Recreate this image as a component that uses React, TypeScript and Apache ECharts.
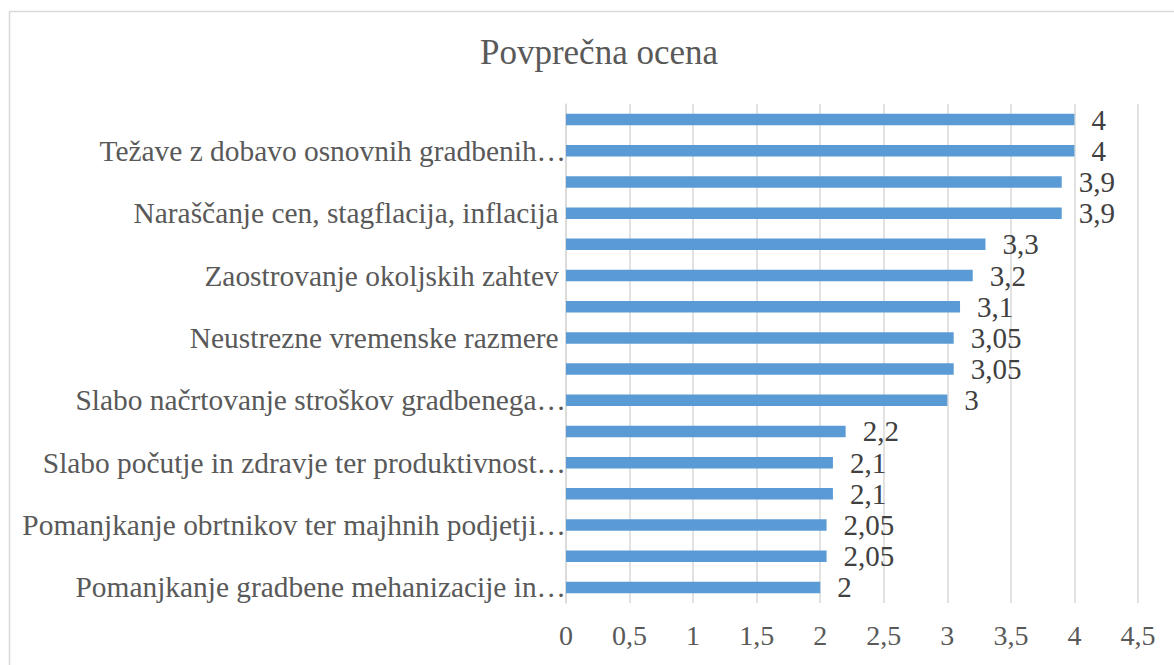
import React, { useEffect, useRef } from "react";
import * as echarts from "echarts";

const TITLE = "Povprečna ocena";

// bottom-to-top order (ECharts category y axis starts at the bottom)
const categories: string[] = [
  "Pomanjkanje gradbene mehanizacije in…",
  "",
  "Pomanjkanje obrtnikov ter majhnih podjetji…",
  "",
  "Slabo počutje in zdravje ter produktivnost…",
  "",
  "Slabo načrtovanje stroškov gradbenega…",
  "",
  "Neustrezne vremenske razmere ",
  "",
  "Zaostrovanje okoljskih zahtev ",
  "",
  "Naraščanje cen, stagflacija, inflacija ",
  "",
  "Težave z dobavo osnovnih gradbenih…",
  "",
];

const values: number[] = [
  2, 2.05, 2.05, 2.1, 2.1, 2.2, 3, 3.05, 3.05, 3.1, 3.2, 3.3, 3.9, 3.9, 4, 4,
];

const xMin = 0;
const xMax = 4.5;
const xStep = 0.5;

const FONT = "'Liberation Serif', 'Times New Roman', serif";

export default function App() {
  const ref = useRef<HTMLDivElement>(null);

  useEffect(() => {
    if (!ref.current) return;
    const chart = echarts.init(ref.current, undefined, { renderer: "svg" });
    const fmt = (v: number) => String(v).replace(".", ",");
    chart.setOption({
      animation: false,
      backgroundColor: "#ffffff",
      title: {
        text: TITLE,
        left: 594,
        top: 30,
        textAlign: "center",
        textStyle: {
          fontFamily: FONT,
          fontSize: 35,
          fontWeight: "normal",
          color: "#595959",
        },
      },
      graphic: [
        {
          type: "rect",
          shape: { x: 9.5, y: 11.5, width: 1250, height: 800 },
          style: { fill: "none", stroke: "#d9d9d9", lineWidth: 1.5 },
          silent: true,
          z: -1,
        },
      ],
      grid: { left: 566, right: 36, top: 104, bottom: 62, containLabel: false },
      xAxis: {
        type: "value",
        min: xMin,
        max: xMax,
        interval: xStep,
        axisLine: { show: false },
        axisTick: { show: false },
        splitLine: { show: true, lineStyle: { color: "#d9d9d9", width: 1.5 } },
        axisLabel: {
          fontFamily: FONT,
          fontSize: 28,
          color: "#595959",
          margin: 18,
          formatter: (v: number) => fmt(v),
        },
      },
      yAxis: {
        type: "category",
        data: categories,
        axisLine: { show: true, lineStyle: { color: "#d9d9d9", width: 1.5 } },
        axisTick: { show: false },
        axisLabel: {
          interval: 0,
          fontFamily: FONT,
          fontSize: 29.4,
          color: "#595959",
          margin: 0,
        },
      },
      series: [
        {
          type: "bar",
          data: values,
          barWidth: 11.5,
          itemStyle: { color: "#5b9bd5" },
          label: {
            show: true,
            position: "right",
            distance: 17,
            fontFamily: FONT,
            fontSize: 29,
            color: "#404040",
            formatter: (p: any) => fmt(p.value),
          },
        },
      ],
    });
    return () => chart.dispose();
  }, []);

  return (
    <div
      ref={ref}
      style={{ position: "fixed", left: 0, top: 0, width: 1174, height: 665 }}
    />
  );
}
